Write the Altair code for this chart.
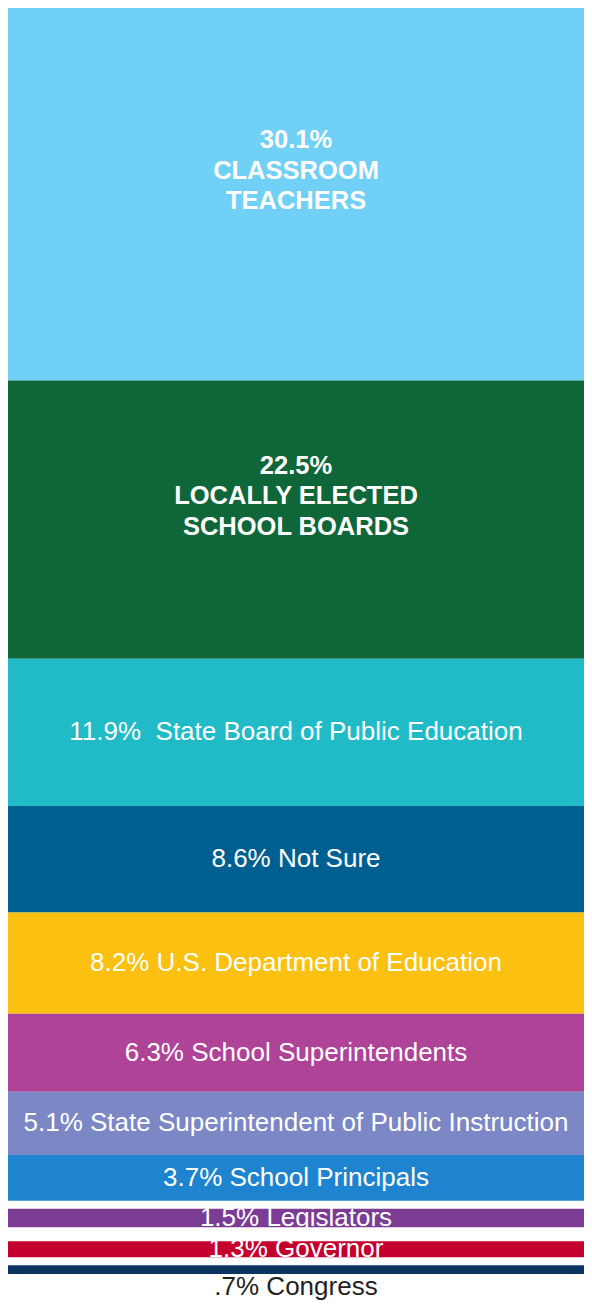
import altair as alt
import pandas as pd

# ---- data ----
CATEGORIES = [
    "Classroom Teachers",
    "Locally Elected School Boards",
    "State Board of Public Education",
    "Not Sure",
    "U.S. Department of Education",
    "School Superintendents",
    "State Superintendent of Public Instruction",
    "School Principals",
    "Legislators",
    "Governor",
    "Congress",
]
VALUES = [30.1, 22.5, 11.9, 8.6, 8.2, 6.3, 5.1, 3.7, 1.5, 1.3, 0.7]
LABELS = [
    "30.1%\nCLASSROOM\nTEACHERS",
    "22.5%\nLOCALLY ELECTED\nSCHOOL BOARDS",
    "11.9%\u00a0 State Board of Public Education",
    "8.6% Not Sure",
    "8.2% U.S. Department of Education",
    "6.3% School Superintendents",
    "5.1% State Superintendent of Public Instruction",
    "3.7% School Principals",
    "1.5% Legislators",
    "1.3% Governor",
    ".7% Congress",
]

# ---- style / layout ----
COLORS = ["#70D0F6", "#0E6639", "#21BBC7", "#005F91", "#FCC010", "#AE4398",
          "#7C87C5", "#1E84D0", "#7D3C94", "#C4002E", "#0B3560"]
BOLD = CATEGORIES[:2]
BELOW = ["Congress"]
GAP_BEFORE = {"Legislators": 0.65, "Governor": 1.13, "Congress": 0.65}  # spacing in value units
LABEL_ROOM = 2.18
W, H = 576, 1293
FONT = "Liberation Sans"
FS = 26

df = pd.DataFrame({
    "category": CATEGORIES,
    "value": VALUES,
    "label": LABELS,
    "order": list(range(len(CATEGORIES))),
    "gap": [GAP_BEFORE.get(c, 0.0) for c in CATEGORIES],
})
domain_max = sum(VALUES) + sum(GAP_BEFORE.values()) + LABEL_ROOM

base = (
    alt.Chart(df)
    .transform_calculate(step="datum.value + datum.gap")
    .transform_window(end="sum(step)", sort=[alt.SortField("order")], frame=[None, 0])
    .transform_calculate(start="datum.end - datum.value", mid="datum.end - datum.value / 2")
)

yscale = alt.Scale(domain=[0, domain_max], reverse=True, nice=False, zero=False)
xscale = alt.Scale(domain=[0, 1], nice=False)

bars = base.mark_rect().encode(
    x=alt.X(datum=0, scale=xscale, axis=None),
    x2=alt.X2(datum=1),
    y=alt.Y("start:Q", scale=yscale, axis=None),
    y2="end:Q",
    color=alt.Color("category:N", scale=alt.Scale(domain=CATEGORIES, range=COLORS), legend=None),
)

bold_text = base.transform_filter(
    alt.FieldOneOfPredicate(field="category", oneOf=BOLD)
).mark_text(
    font=FONT, fontSize=25.5, fontWeight="bold", color="white",
    lineBreak="\n", lineHeight=30.5, baseline="middle", align="center", dy=-54,
).encode(
    x=alt.X(datum=0.5, scale=xscale),
    y=alt.Y("mid:Q", scale=yscale),
    text="label:N",
)

normal_cats = [c for c in CATEGORIES if c not in BOLD and c not in BELOW]
normal_text = base.transform_filter(
    alt.FieldOneOfPredicate(field="category", oneOf=normal_cats)
).mark_text(
    font=FONT, fontSize=FS, color="white", baseline="middle", align="center",
).encode(
    x=alt.X(datum=0.5, scale=xscale),
    y=alt.Y("mid:Q", scale=yscale),
    text="label:N",
)

below_text = base.transform_filter(
    alt.FieldOneOfPredicate(field="category", oneOf=BELOW)
).mark_text(
    font=FONT, fontSize=FS, color="#231F20", baseline="middle", align="center", dy=17,
).encode(
    x=alt.X(datum=0.5, scale=xscale),
    y=alt.Y("mid:Q", scale=yscale),
    text="label:N",
)

chart = (
    alt.layer(bars, bold_text, normal_text, below_text)
    .properties(width=W, height=H, padding=0,
                autosize=alt.AutoSizeParams(type="none"),
                background="white")
    .configure_view(stroke=None)
)

chart.save("out.html", embed_options={"renderer": "svg", "actions": False})
